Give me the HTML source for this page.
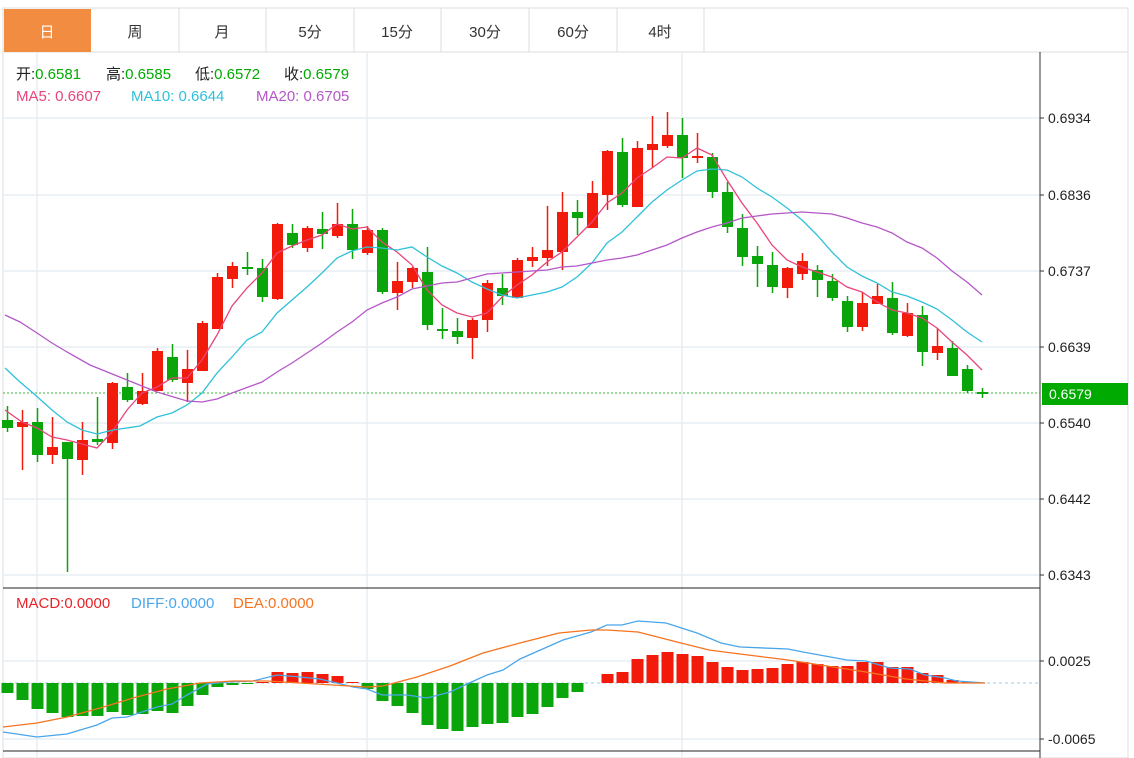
<!DOCTYPE html>
<html><head><meta charset="utf-8"><style>
body{margin:0;background:#fff;width:1134px;height:758px;overflow:hidden;font-family:"Liberation Sans","Noto Sans CJK SC",sans-serif}
svg{position:absolute;left:0;top:0}
</style></head><body>
<svg id="s" width="1134" height="758" xmlns="http://www.w3.org/2000/svg" font-family="Liberation Sans, Noto Sans CJK SC, sans-serif">
<rect x="3" y="8" width="1125" height="750" fill="#fff" stroke="#ddd"/>
<line x1="3" y1="52" x2="1128" y2="52" stroke="#ddd"/>
<rect x="4" y="9" width="87" height="43" fill="#f28c40"/>
<g stroke="#ddd"><line x1="179" y1="8" x2="179" y2="52"/><line x1="266" y1="8" x2="266" y2="52"/><line x1="354" y1="8" x2="354" y2="52"/><line x1="441" y1="8" x2="441" y2="52"/><line x1="529" y1="8" x2="529" y2="52"/><line x1="617" y1="8" x2="617" y2="52"/><line x1="704" y1="8" x2="704" y2="52"/></g>
<g font-size="15" text-anchor="middle" fill="#333"><text x="47" y="37" fill="#fff">日</text><text x="135" y="37">周</text><text x="222" y="37">月</text><text x="310" y="37">5分</text><text x="397" y="37">15分</text><text x="485" y="37">30分</text><text x="573" y="37">60分</text><text x="660" y="37">4时</text></g>
<g stroke="#e6eef4" stroke-width="1.5">
<line x1="3" y1="118" x2="1040" y2="118"/><line x1="3" y1="195" x2="1040" y2="195"/><line x1="3" y1="271" x2="1040" y2="271"/><line x1="3" y1="347" x2="1040" y2="347"/><line x1="3" y1="423" x2="1040" y2="423"/><line x1="3" y1="499" x2="1040" y2="499"/><line x1="3" y1="575" x2="1040" y2="575"/>
<line x1="3" y1="661" x2="1040" y2="661"/><line x1="3" y1="739" x2="1040" y2="739"/>
<line x1="37" y1="52" x2="37" y2="758"/><line x1="367" y1="52" x2="367" y2="758"/><line x1="682" y1="52" x2="682" y2="758"/>
</g>
<line x1="3" y1="588" x2="1040" y2="588" stroke="#222"/>
<line x1="3" y1="751" x2="1040" y2="751" stroke="#222"/>
<line x1="1040" y1="52" x2="1040" y2="758" stroke="#333"/>
<g stroke="#333"><line x1="1040" y1="661" x2="1044" y2="661"/><line x1="1040" y1="739" x2="1044" y2="739"/>
<line x1="1040" y1="118" x2="1044" y2="118"/><line x1="1040" y1="195" x2="1044" y2="195"/><line x1="1040" y1="271" x2="1044" y2="271"/><line x1="1040" y1="347" x2="1044" y2="347"/><line x1="1040" y1="423" x2="1044" y2="423"/><line x1="1040" y1="499" x2="1044" y2="499"/><line x1="1040" y1="575" x2="1044" y2="575"/></g>
<g font-size="14" fill="#222"><text x="1048" y="123">0.6934</text><text x="1048" y="200">0.6836</text><text x="1048" y="276">0.6737</text><text x="1048" y="352">0.6639</text><text x="1048" y="428">0.6540</text><text x="1048" y="504">0.6442</text><text x="1048" y="580">0.6343</text><text x="1048" y="666">0.0025</text><text x="1048" y="744">-0.0065</text></g>
<line x1="3" y1="393" x2="1040" y2="393" stroke="#3cb83c" stroke-dasharray="2,2"/>
<rect x="1042" y="383" width="86" height="22" fill="#0a0"/>
<text x="1049" y="399" font-size="14" fill="#fff">0.6579</text>
<line x1="3" y1="683" x2="1040" y2="683" stroke="#9ccbe8" stroke-dasharray="3,3"/>
<g id="c"></g>
<g font-size="15"><text x="16" y="79" fill="#222">开:<tspan fill="#0a0">0.6581</tspan></text><text x="106" y="79" fill="#222">高:<tspan fill="#0a0">0.6585</tspan></text><text x="195" y="79" fill="#222">低:<tspan fill="#0a0">0.6572</tspan></text><text x="284" y="79" fill="#222">收:<tspan fill="#0a0">0.6579</tspan></text>
<text x="16" y="101" fill="#e8457a">MA5: 0.6607</text><text x="131" y="101" fill="#2fc1d9">MA10: 0.6644</text><text x="256" y="101" fill="#b557c8">MA20: 0.6705</text>
<text x="16" y="608" fill="#e8242a">MACD:0.0000</text><text x="131" y="608" fill="#4aa6ea">DIFF:0.0000</text><text x="233" y="608" fill="#f57420">DEA:0.0000</text></g>
</svg>
<script>
var C=[[420,428,406,432,'g'],[422,427,410,470,'r'],[422,455,408,462,'g'],[447,455,417,464,'r'],[442,459,442,572,'g'],[440,460,422,475,'r'],[440,441,397,445,'g'],[383,443,382,449,'r'],[387,400,373,402,'g'],[391,404,373,405,'r'],[351,391,348,391,'r'],[357,380,344,382,'g'],[369,383,350,402,'r'],[323,371,321,371,'r'],[277,329,273,329,'r'],[266,279,262,288,'r'],[267,269,252,275,'g'],[268,297,259,302,'g'],[224,299,223,300,'r'],[233,245,224,248,'g'],[228,248,226,252,'r'],[229,234,212,249,'g'],[224,236,203,238,'r'],[224,250,209,259,'g'],[230,253,226,255,'r'],[230,292,228,294,'g'],[281,293,262,310,'r'],[268,282,267,288,'r'],[272,325,247,330,'g'],[329,331,308,339,'g'],[331,337,318,344,'g'],[320,338,318,359,'r'],[283,320,280,332,'r'],[288,296,274,305,'g'],[260,298,258,298,'r'],[257,261,247,267,'r'],[250,258,206,266,'r'],[212,252,192,270,'r'],[212,218,200,235,'g'],[193,228,181,228,'r'],[151,195,150,210,'r'],[152,205,138,207,'g'],[148,207,141,207,'r'],[144,150,116,168,'r'],[135,146,112,148,'r'],[135,158,118,178,'g'],[156,158,133,163,'r'],[157,192,153,198,'g'],[192,227,182,233,'g'],[228,257,214,266,'g'],[256,264,246,287,'g'],[265,287,252,293,'g'],[268,288,267,298,'r'],[261,274,253,280,'r'],[270,280,265,297,'g'],[281,298,274,301,'g'],[301,327,296,332,'g'],[303,327,292,331,'r'],[296,304,284,304,'r'],[298,333,282,335,'g'],[313,336,303,337,'r'],[315,352,306,366,'g'],[346,353,328,360,'r'],[348,376,341,376,'g'],[369,391,365,393,'g'],[392,394,388,398,'g']];
var M=[693,700,709,713,717,716,716,712,715,714,711,713,706,695,687,685,684,682,672,673,672,674,676,682,689,701,706,713,725,729,731,727,724,723,717,714,707,698,692,683,674,672,659,655,652,654,656,662,667,670,669,668,664,662,664,666,666,662,662,667,667,673,675,680,682,683];
var h='';
for(var i=0;i<C.length;i++){var x=7.5+15*i,c=C[i],col=c[4]=='r'?'#f21a0a':'#0aa50a';
h+='<line x1="'+x+'" y1="'+c[2]+'" x2="'+x+'" y2="'+c[3]+'" stroke="'+col+'" stroke-width="1.5"/>';
var t=c[0],b=c[1];if(b-t<2){t-=1;b+=1;}
h+='<rect x="'+(x-5.5)+'" y="'+t+'" width="11" height="'+(b-t)+'" fill="'+col+'"/>';}
for(i=0;i<M.length;i++){var x=7.5+15*i,v=M[i];if(Math.abs(v-683)<1)continue;var col=v<683?'#f21a0a':'#0aa50a';
h+='<rect x="'+(x-6)+'" y="'+Math.min(v,683)+'" width="12" height="'+Math.abs(v-683)+'" fill="'+col+'"/>';}
function pl(p,col){return '<polyline fill="none" stroke="'+col+'" stroke-width="1.3" points="'+p+'"/>';}
h+=pl("5,410 22,422 37,428 52,437 67,440 82,444 97,448 112,432 127,410 142,393 157,387 172,378 187,378 202,360 217,335 232,306 247,288 262,273 277,253 292,246 307,240 322,235 337,224 352,229 367,227 382,242 397,252 412,265 427,290 442,305 457,313 472,317 487,313 502,297 517,285 532,275 547,262 562,252 577,237 592,222 607,203 622,193 637,178 652,168 667,157 682,158 697,148 712,155 727,180 742,203 757,223 772,245 787,260 802,267 817,272 832,277 847,287 862,292 877,302 892,310 907,313 922,318 937,328 952,342 967,355 982,370","#e8457a");
h+=pl("5,368 20,382 33,393 52,410 67,422 82,430 97,434 113,430 140,426 157,417 172,413 187,405 202,393 217,373 232,357 247,340 262,332 277,313 292,300 307,287 322,273 337,258 352,251 367,247 382,248 397,250 412,247 427,257 442,266 457,273 472,282 487,289 502,295 517,298 532,295 547,292 562,287 577,277 592,263 607,243 622,232 637,217 652,202 667,190 682,180 697,171 712,169 727,170 742,177 757,188 772,197 787,208 802,220 817,235 832,252 847,267 862,276 877,283 892,292 907,296 922,302 937,309 952,320 967,332 982,342","#2fc1d9");
h+=pl("5,315 20,322 37,333 52,343 67,352 90,365 127,380 157,392 187,401 202,402 217,399 232,393 262,382 277,372 292,363 307,353 322,343 337,332 352,322 367,310 382,303 397,297 412,289 442,283 457,282 487,274 517,272 547,270 562,267 577,266 592,263 607,260 622,258 637,255 652,250 667,245 682,238 697,232 712,227 727,223 742,218 757,216 772,214 787,213 802,212 817,213 832,214 847,218 862,223 877,227 892,233 907,242 922,248 937,258 952,271 967,282 982,295","#b557c8");
h+=pl("3,732 37,737 67,734 97,725 112,718 127,717 157,707 172,704 187,695 207,684 227,682 253,681 277,675 300,677 320,679 337,683 353,687 367,689 382,695 407,695 427,698 450,692 467,684 487,675 503,670 520,659 563,640 591,632 607,625 622,625 638,621 666,623 697,633 721,643 740,647 788,649 803,652 847,660 866,661 890,668 910,669 925,675 945,678 957,681 985,683","#4aa6ea");
h+=pl("3,727 37,723 67,717 100,708 133,698 167,689 200,683 233,681 267,681 300,683 333,685 367,687 383,686 417,677 450,666 483,653 520,643 559,633 591,630 607,630 638,632 677,642 709,650 740,654 788,660 827,666 866,672 906,679 945,683 985,683","#f57420");
document.getElementById('c').innerHTML=h;
</script>
</body></html>
